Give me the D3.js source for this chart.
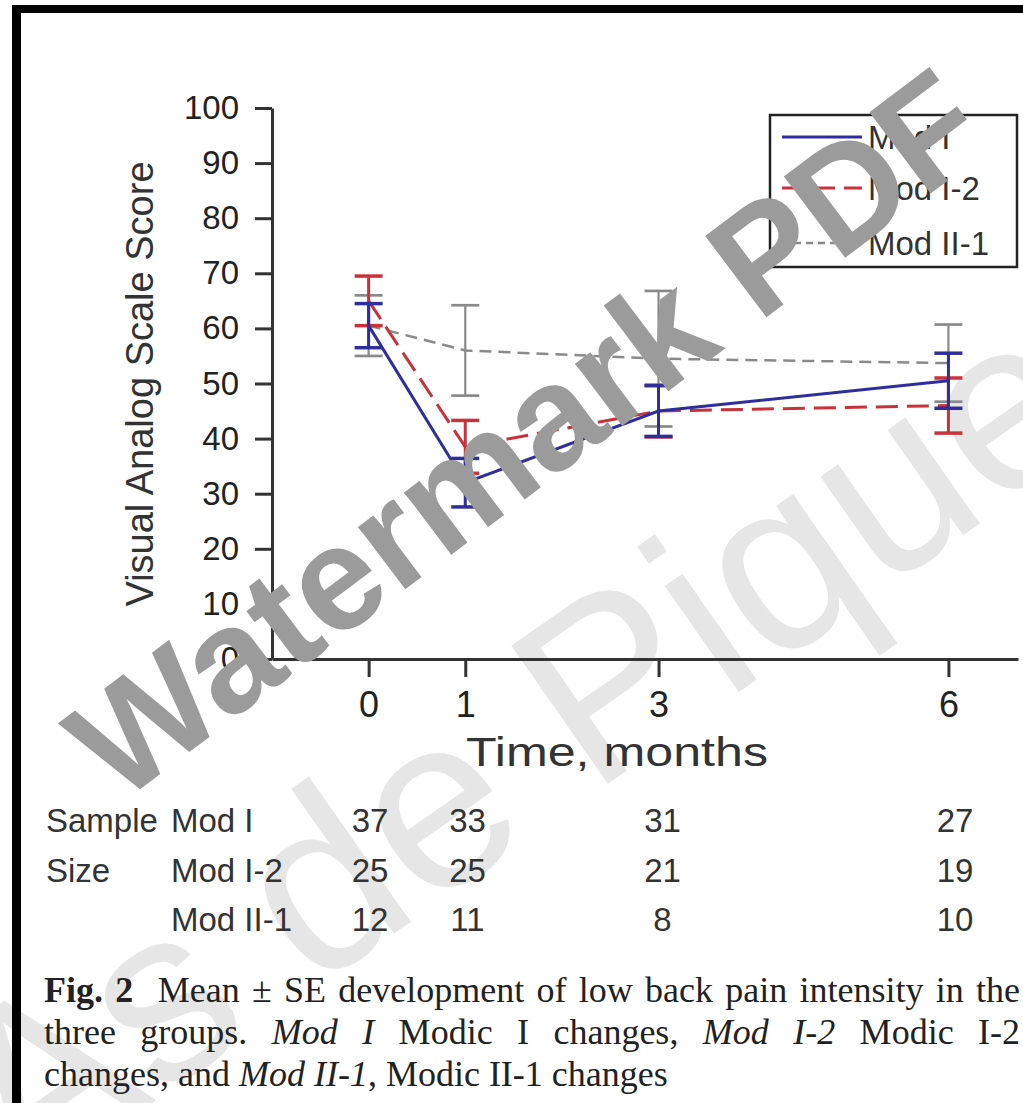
<!DOCTYPE html>
<html><head><meta charset="utf-8">
<script src="https://cdn.jsdelivr.net/npm/d3@7"></script>
<style>html,body{margin:0;padding:0;background:#fff;}svg{display:block;}</style>
</head><body>
<svg id="c" width="1023" height="1103"></svg>
<script>
// ---- data ----
const months = [0, 1, 3, 6];
const yTicks = [0, 10, 20, 30, 40, 50, 60, 70, 80, 90, 100];
const seriesNames = ["Mod I", "Mod I-2", "Mod II-1"];
const modIMean = [60.5, 32, 45, 50.5];
const modISE = [4, 4.4, 4.6, 5];
const modI2Mean = [65, 38.5, 45, 46];
const modI2SE = [4.5, 4.8, 4.7, 5];
const modII1Mean = [60.5, 56, 54.5, 53.7];
const modII1SE = [5.5, 8.2, 12.3, 7];
const sampleModI = [37, 33, 31, 27];
const sampleModI2 = [25, 25, 21, 19];
const sampleModII1 = [12, 11, 8, 10];

const svg = d3.select("#c");
const W = 1023, H = 1103;
svg.append("rect").attr("width", W).attr("height", H).attr("fill", "#fff");

// background watermark
svg.append("text").text("As de Pique")
  .attr("transform", "translate(515,745) rotate(-35)")
  .attr("text-anchor", "middle").attr("dominant-baseline", "central")
  .attr("font-family", "Liberation Sans, Arial, sans-serif")
  .attr("font-size", 245).attr("fill", "#e6e6e6");

// frame
svg.append("rect").attr("x", 12).attr("y", 5).attr("width", W - 12).attr("height", 8).attr("fill", "#000");
svg.append("rect").attr("x", 12).attr("y", 5).attr("width", 9).attr("height", H - 5).attr("fill", "#000");

const x = d3.scaleLinear().domain([-1, 6.72]).range([272, 1018]);
const y = d3.scaleLinear().domain([0, 100]).range([659, 108]);
const font = "Liberation Sans, Arial, Helvetica, sans-serif";

// axes
const gy = svg.append("g").attr("transform", `translate(${x(-1)},0)`)
  .call(d3.axisLeft(y).tickValues(yTicks).tickSize(17).tickSizeOuter(0).tickPadding(16));
const gx = svg.append("g").attr("transform", `translate(0,${y(0)})`)
  .call(d3.axisBottom(x).tickValues(months).tickSize(18).tickSizeOuter(0).tickPadding(14));
[gy, gx].forEach(g => {
  g.select(".domain").attr("stroke", "#333").attr("stroke-width", 3);
  g.selectAll(".tick line").attr("stroke", "#333").attr("stroke-width", 3);
  g.selectAll(".tick text").attr("font-family", font).attr("fill", "#222");
});
gy.selectAll(".tick text").attr("font-size", 33);
gx.selectAll(".tick text").attr("font-size", 36);

svg.append("text").text("Visual Analog Scale Score")
  .attr("transform", "translate(153,384) rotate(-90)")
  .attr("text-anchor", "middle").attr("font-family", font)
  .attr("font-size", 38).attr("fill", "#333");
svg.append("text").text("Time, months")
  .attr("x", 466).attr("y", 766)
  .attr("textLength", 302).attr("lengthAdjust", "spacingAndGlyphs")
  .attr("font-family", font).attr("font-size", 40).attr("fill", "#333");

// series
const series = [
  {name: seriesNames[2], mean: modII1Mean, se: modII1SE, color: "#8a8a8a", dash: "12,7", w: 2.5, ew: 2.2},
  {name: seriesNames[1], mean: modI2Mean, se: modI2SE, color: "#c8323a", dash: "22,9", w: 3, ew: 3},
  {name: seriesNames[0], mean: modIMean, se: modISE, color: "#2e2e9c", dash: null, w: 3, ew: 3}
];
const line = d3.line().x(d => x(d.m)).y(d => y(d.v));
const capW = 14;
series.forEach(s => {
  const pts = months.map((m, i) => ({m, v: s.mean[i], e: s.se[i]}));
  const g = svg.append("g");
  pts.forEach(p => {
    g.append("line").attr("x1", x(p.m)).attr("x2", x(p.m))
      .attr("y1", y(p.v + p.e)).attr("y2", y(p.v - p.e))
      .attr("stroke", s.color).attr("stroke-width", s.ew);
    [p.v + p.e, p.v - p.e].forEach(v => {
      g.append("line").attr("x1", x(p.m) - capW).attr("x2", x(p.m) + capW)
        .attr("y1", y(v)).attr("y2", y(v))
        .attr("stroke", s.color).attr("stroke-width", s.ew + 0.5);
    });
  });
  g.append("path").datum(pts).attr("d", line).attr("fill", "none")
    .attr("stroke", s.color).attr("stroke-width", s.w)
    .attr("stroke-dasharray", s.dash);
});

// legend
const lg = svg.append("g");
lg.append("rect").attr("x", 770).attr("y", 115).attr("width", 247).attr("height", 152)
  .attr("fill", "#fff").attr("stroke", "#222").attr("stroke-width", 2.5);
const legRows = [series[2], series[1], series[0]];
const legY = [137, 188, 243];
legRows.forEach((s, i) => {
  lg.append("line").attr("x1", 782).attr("x2", 862).attr("y1", legY[i]).attr("y2", legY[i])
    .attr("stroke", s.color).attr("stroke-width", s.w)
    .attr("stroke-dasharray", s.name === "Mod II-1" ? "7,5" : s.dash);
  lg.append("text").text(s.name).attr("x", 868).attr("y", legY[i])
    .attr("dominant-baseline", "central").attr("font-family", font)
    .attr("font-size", 33).attr("fill", "#333");
});

// sample size table
const colX = d3.scaleLinear().domain([0, 6]).range([370, 955]);
const rowsY = [820, 870, 919];
const tbl = svg.append("g").attr("font-family", font).attr("font-size", 33).attr("fill", "#333");
[["Sample", "Mod I", sampleModI], ["Size", "Mod I-2", sampleModI2], ["", "Mod II-1", sampleModII1]]
  .forEach((r, i) => {
    tbl.append("text").text(r[0]).attr("x", 46).attr("y", rowsY[i]).attr("dominant-baseline", "central");
    tbl.append("text").text(r[1]).attr("x", 171).attr("y", rowsY[i]).attr("dominant-baseline", "central");
    r[2].forEach((n, j) => {
      tbl.append("text").text(n).attr("x", colX(months[j])).attr("y", rowsY[i])
        .attr("text-anchor", "middle").attr("dominant-baseline", "central");
    });
  });

// caption
const cap = svg.append("g").attr("font-family", "Liberation Serif, Times New Roman, serif")
  .attr("font-size", 36).attr("fill", "#222");
function capLine(parts, yy, target) {
  const t = cap.append("text").attr("x", 44).attr("y", yy).attr("xml:space", "preserve");
  parts.forEach(p => {
    t.append("tspan").text(p[0]).attr("font-weight", p[1] === "b" ? "bold" : null)
      .attr("font-style", p[1] === "i" ? "italic" : null);
  });
  if (target) {
    const nat = t.node().getComputedTextLength();
    const spaces = parts.map(p => p[0]).join("").split(" ").length - 1;
    t.attr("word-spacing", (target - nat) / spaces);
  }
  return t;
}
capLine([["Fig. 2", "b"], ["  Mean \u00b1 SE development of low back pain intensity in the", ""]], 1002, 976);
capLine([["three groups. ", ""], ["Mod I", "i"], [" Modic I changes, ", ""], ["Mod I-2", "i"], [" Modic I-2", ""]], 1044, 976);
capLine([["changes, and ", ""], ["Mod II-1", "i"], [", Modic II-1 changes", ""]], 1086, null);

// foreground watermark
svg.append("text").text("Watermark PDF")
  .attr("transform", "translate(526,434) rotate(-37)")
  .attr("text-anchor", "middle").attr("dominant-baseline", "central")
  .attr("font-family", font).attr("font-weight", "bold")
  .attr("font-size", 148).attr("fill", "#9b9b9b");
</script>
</body></html>
